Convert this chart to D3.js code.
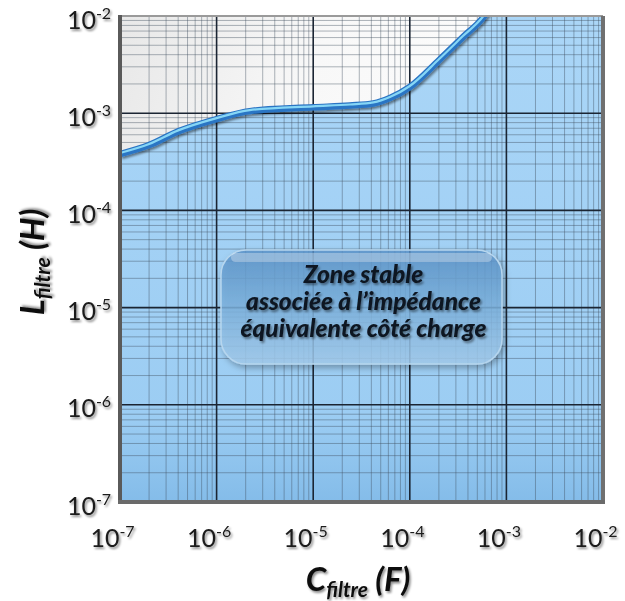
<!DOCTYPE html>
<html><head><meta charset="utf-8">
<script src="https://cdn.jsdelivr.net/npm/d3@7"></script>
<style>body{margin:0;background:#fff}</style>
</head><body>
<script>
// ---- data ----
const capacitance = [1e-7, 2e-7, 4e-7, 1e-6, 2.2e-6, 1e-5, 2.4e-5, 4.2e-5, 6.3e-5, 1e-4, 2e-4, 3.5e-4, 5.8e-4, 6.3e-4];
const inductance  = [3.8e-4, 4.7e-4, 6.5e-4, 8.7e-4, 1.05e-3, 1.15e-3, 1.2e-3, 1.26e-3, 1.44e-3, 1.86e-3, 3.5e-3, 6.0e-3, 9.8e-3, 1.1e-2];
const exponents = [-7, -6, -5, -4, -3, -2];
const boxLines = ["Zone stable", "associée à l’impédance", "équivalente côté charge"];

const W = 625, H = 601;
const m = {l:120, r:22, t:16, b:99};
const svg = d3.select("body").append("svg").attr("width", W).attr("height", H);
const defs = svg.append("defs");

const x = d3.scaleLog().domain([1e-7, 1e-2]).range([m.l, W - m.r]);
const y = d3.scaleLog().domain([1e-7, 1e-2]).range([H - m.b, m.t]);

// gradients & filters
const gBlue = defs.append("linearGradient").attr("id","gBlue").attr("x1",0).attr("x2",0).attr("y1",0).attr("y2",1);
gBlue.append("stop").attr("offset","0%").attr("stop-color","#aed8f8");
gBlue.append("stop").attr("offset","85%").attr("stop-color","#9ccdf3");
gBlue.append("stop").attr("offset","100%").attr("stop-color","#84bce9");
const gGrey = defs.append("linearGradient").attr("id","gGrey").attr("x1",0).attr("x2",1).attr("y1",0).attr("y2",0.3);
gGrey.append("stop").attr("offset","0%").attr("stop-color","#e8e8e8");
gGrey.append("stop").attr("offset","40%").attr("stop-color","#f8f8f8");
gGrey.append("stop").attr("offset","100%").attr("stop-color","#ffffff");
const gBox = defs.append("linearGradient").attr("id","gBox").attr("x1",0).attr("x2",0).attr("y1",0).attr("y2",1);
gBox.append("stop").attr("offset","0%").attr("stop-color","#5a92c8");
gBox.append("stop").attr("offset","45%").attr("stop-color","#79afdc");
gBox.append("stop").attr("offset","100%").attr("stop-color","#a4cdee");
const sh = defs.append("filter").attr("id","sh").attr("x","-20%").attr("y","-20%").attr("width","140%").attr("height","140%");
sh.append("feDropShadow").attr("dx",1.5).attr("dy",2).attr("stdDeviation",1.2).attr("flood-color","#000").attr("flood-opacity",0.45);
const sh2 = defs.append("filter").attr("id","sh2").attr("x","-10%").attr("y","-10%").attr("width","120%").attr("height","130%");
sh2.append("feDropShadow").attr("dx",2).attr("dy",3).attr("stdDeviation",3).attr("flood-color","#000").attr("flood-opacity",0.35);

defs.append("clipPath").attr("id","clip").append("rect")
  .attr("x", m.l).attr("y", m.t).attr("width", W-m.r-m.l).attr("height", H-m.b-m.t);

const plot = svg.append("g").attr("clip-path","url(#clip)");
plot.append("rect").attr("x", m.l).attr("y", m.t).attr("width", W-m.r-m.l).attr("height", H-m.b-m.t).attr("fill","url(#gGrey)");

const pts = capacitance.map((c,i)=>[c, inductance[i]]);
const area = d3.area().x(d=>x(d[0])).y0(H-m.b).y1(d=>y(d[1])).curve(d3.curveMonotoneX);
const ext = pts.concat([[1e-2, 1e-1]]);
plot.append("path").datum(ext).attr("d", area).attr("fill","url(#gBlue)");

// grid
const minor = [];
for (let e=-7;e<-2;e++) for (let k=2;k<=9;k++) minor.push(k*Math.pow(10,e));
const major = exponents.map(e=>Math.pow(10,e));
const grid = plot.append("g");
grid.selectAll(".vm").data(minor).join("line").attr("x1",d=>x(d)).attr("x2",d=>x(d)).attr("y1",m.t).attr("y2",H-m.b)
  .attr("stroke","#3d4d5e").attr("stroke-opacity",0.42).attr("stroke-width",1);
grid.selectAll(".hm").data(minor).join("line").attr("y1",d=>y(d)).attr("y2",d=>y(d)).attr("x1",m.l).attr("x2",W-m.r)
  .attr("stroke","#3d4d5e").attr("stroke-opacity",0.42).attr("stroke-width",1);
grid.selectAll(".vM").data(major).join("line").attr("x1",d=>x(d)).attr("x2",d=>x(d)).attr("y1",m.t).attr("y2",H-m.b)
  .attr("stroke","#1b2533").attr("stroke-width",1.6);
grid.selectAll(".hM").data(major).join("line").attr("y1",d=>y(d)).attr("y2",d=>y(d)).attr("x1",m.l).attr("x2",W-m.r)
  .attr("stroke","#1b2533").attr("stroke-width",1.6);

// curve
const line = d3.line().x(d=>x(d[0])).y(d=>y(d[1])).curve(d3.curveMonotoneX);
plot.append("path").datum(pts).attr("d", line).attr("fill","none").attr("stroke","#2a74c4").attr("stroke-width",6.5).attr("filter","url(#sh)");
plot.append("path").datum(pts).attr("d", line).attr("fill","none").attr("stroke","#86d6f6").attr("stroke-width",2.2).attr("transform","translate(0,-1)");

// frame
svg.append("line").attr("x1",m.l).attr("x2",W-m.r).attr("y1",m.t).attr("y2",m.t).attr("stroke","#9a9a9a").attr("stroke-width",2);
svg.append("line").attr("x1",W-m.r).attr("x2",W-m.r).attr("y1",m.t).attr("y2",H-m.b).attr("stroke","#707070").attr("stroke-width",4);
svg.append("line").attr("x1",m.l).attr("x2",m.l).attr("y1",m.t-1).attr("y2",H-m.b+2).attr("stroke","#5a5a5a").attr("stroke-width",4);
svg.append("line").attr("x1",m.l-2).attr("x2",W-m.r+2).attr("y1",H-m.b).attr("y2",H-m.b).attr("stroke","#6a6a6a").attr("stroke-width",4);

// axes
const font = "Lato, 'Open Sans', sans-serif";
const fmt = d => "10";
const xAxis = d3.axisBottom(x).tickValues(major).tickSize(0).tickFormat(fmt);
const gx = svg.append("g").attr("transform",`translate(0,${H-m.b})`).call(xAxis);
gx.select(".domain").remove();
gx.selectAll("text").attr("dy",null).attr("y",45).attr("x",-8).attr("font-size",25).attr("font-family",font).attr("fill","#1a1a1a").attr("filter","url(#sh)")
  .each(function(d){ d3.select(this).append("tspan").attr("dy",-10).attr("font-size",16).text(Math.round(Math.log10(d))); });

const yAxis = d3.axisLeft(y).tickValues(major).tickSize(0).tickFormat(fmt);
const gy = svg.append("g").attr("transform",`translate(${m.l},0)`).call(yAxis);
gy.select(".domain").remove();
gy.selectAll("text").attr("x",-31).attr("dy","0.32em").attr("y",4).attr("font-size",25).attr("font-family",font).attr("fill","#1a1a1a").attr("filter","url(#sh)")
  .each(function(d){ d3.select(this).append("tspan").attr("dy",-10).attr("font-size",16).text(Math.round(Math.log10(d))); });
gy.selectAll("text").attr("text-anchor","middle");

// titles
const xt = svg.append("text").attr("x",358).attr("y",591).attr("text-anchor","middle").attr("font-family",font)
  .attr("font-weight","bold").attr("font-style","italic").attr("font-size",33).attr("fill","#111").attr("filter","url(#sh)");
xt.append("tspan").text("C");
xt.append("tspan").attr("font-size",21).attr("dy",6).text("filtre");
xt.append("tspan").attr("dy",-6).text(" (F)");

const yt = svg.append("text").attr("transform","translate(44,262) rotate(-90)").attr("text-anchor","middle").attr("font-family",font)
  .attr("font-weight","bold").attr("font-style","italic").attr("font-size",33).attr("fill","#111").attr("filter","url(#sh)");
yt.append("tspan").text("L");
yt.append("tspan").attr("font-size",21).attr("dy",6).text("filtre");
yt.append("tspan").attr("dy",-6).text(" (H)");

// annotation box
const bx = 221, by = 250, bw = 281, bh = 114;
svg.append("rect").attr("x",bx).attr("y",by).attr("width",bw).attr("height",bh).attr("rx",25).attr("ry",25)
  .attr("fill","url(#gBox)").attr("fill-opacity",0.82).attr("stroke","#b7d6ee").attr("stroke-width",1.5).attr("filter","url(#sh2)");
svg.append("rect").attr("x",bx+10).attr("y",by+3).attr("width",bw-20).attr("height",9).attr("rx",4.5)
  .attr("fill","#ffffff").attr("fill-opacity",0.3);
svg.selectAll(".bl").data(boxLines).join("text").attr("x",bx+bw/2+2).attr("y",(d,i)=>by+33+i*27)
  .attr("text-anchor","middle").attr("font-family",font).attr("font-weight","900").attr("font-style","italic")
  .attr("font-size",24.5).attr("fill","#0e1620").attr("filter","url(#sh)").text(d=>d);
</script>
</body></html>
